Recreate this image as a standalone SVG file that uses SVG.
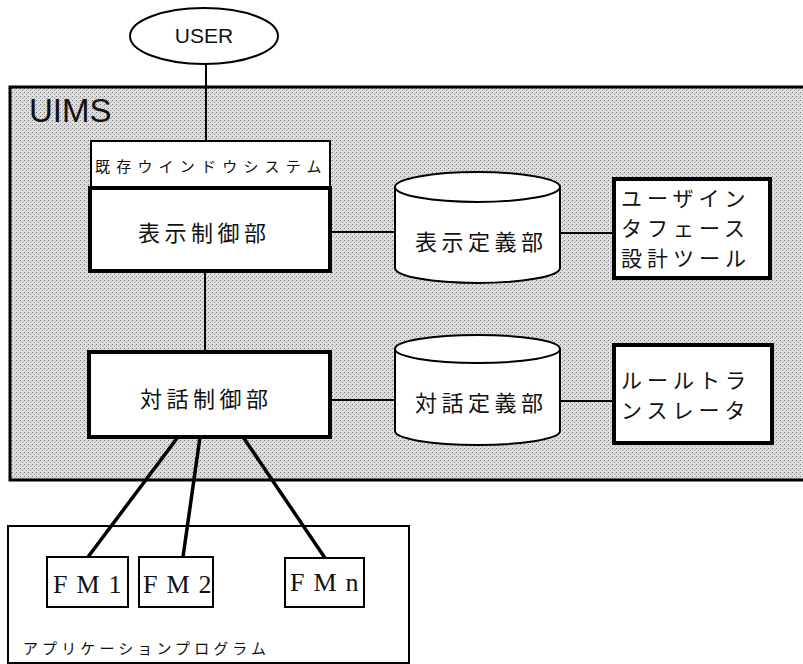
<svg xmlns="http://www.w3.org/2000/svg" width="803" height="664" viewBox="0 0 803 664">
<style>
.jp{font-family:"Noto Sans CJK JP","Noto Sans",sans-serif;fill:#111}
.thin{fill:#fff;stroke:#000;stroke-width:2}
.thick{fill:#fff;stroke:#000;stroke-width:4}
.ln{stroke:#000;stroke-width:2;fill:none}
.lnb{stroke:#000;stroke-width:3.5;fill:none}
.fm{font-family:"Liberation Serif",serif;font-size:26px;fill:#111;letter-spacing:9px}
</style>
<defs>
<pattern id="stip" width="4" height="4" patternUnits="userSpaceOnUse">
<rect width="4" height="4" fill="#dedede"/>
<rect x="0" y="0" width="1" height="1" fill="#777"/>
<rect x="2" y="2" width="1" height="1" fill="#999"/>
<rect x="3" y="1" width="1" height="1" fill="#bbb"/>
</pattern>
</defs>
<rect width="803" height="664" fill="#fff"/>
<g id="uims">
<rect x="10" y="87" width="800" height="393" fill="url(#stip)" stroke="#000" stroke-width="3"/>
<text x="29" y="122" font-family="Liberation Sans,sans-serif" font-size="33" fill="#111">UIMS</text>
</g>
<g id="app">
<rect x="8" y="526" width="401" height="137" class="thin"/>
<text x="23" y="654" class="jp" font-size="15" letter-spacing="4.1">アプリケーションプログラム</text>
</g>
<g id="connectors">
<line class="ln" x1="206" y1="64" x2="206" y2="141"/>
<line class="ln" x1="205" y1="271" x2="205" y2="352"/>
<line class="ln" x1="330" y1="232" x2="395" y2="232"/>
<line class="ln" x1="560" y1="233" x2="613" y2="233"/>
<line class="ln" x1="330" y1="400" x2="395" y2="400"/>
<line class="ln" x1="560" y1="401" x2="613" y2="401"/>
<line class="lnb" x1="178" y1="437" x2="88" y2="557"/>
<line class="lnb" x1="200" y1="437" x2="183" y2="557"/>
<line class="lnb" x1="243" y1="437" x2="325" y2="558"/>
</g>
<g id="user">
<ellipse cx="204" cy="36" rx="74" ry="28" class="thin"/>
<text x="204" y="43" text-anchor="middle" font-family="Liberation Sans,sans-serif" font-size="21" fill="#111">USER</text>
</g>
<g id="window">
<rect x="91" y="141" width="239" height="47" class="thin"/>
<text x="95" y="172" class="jp" font-size="15" letter-spacing="6.2">既存ウインドウシステム</text>
</g>
<g id="display-ctrl">
<rect x="90" y="188" width="240" height="83" class="thick"/>
<text x="138" y="241" class="jp" font-size="22" letter-spacing="4.5">表示制御部</text>
</g>
<g id="dialog-ctrl">
<rect x="89" y="352" width="241" height="85" class="thick"/>
<text x="140" y="407" class="jp" font-size="22" letter-spacing="4.5">対話制御部</text>
</g>
<g id="display-def">
<path class="thin" d="M395,187 A82.5,15 0 0,1 560,187 V268 A82.5,15 0 0,1 395,268 Z"/>
<path class="ln" d="M395,187 A82.5,15 0 0,0 560,187"/>
<text x="415" y="250" class="jp" font-size="22" letter-spacing="4.5">表示定義部</text>
</g>
<g id="dialog-def">
<path class="thin" d="M395,349 A82.5,14 0 0,1 560,349 V431 A82.5,14 0 0,1 395,431 Z"/>
<path class="ln" d="M395,349 A82.5,14 0 0,0 560,349"/>
<text x="415" y="411" class="jp" font-size="22" letter-spacing="4.5">対話定義部</text>
</g>
<g id="ui-tool">
<rect x="614" y="179" width="156" height="99" class="thick"/>
<g class="jp" font-size="21" letter-spacing="5">
<text x="621" y="206">ユーザイン</text>
<text x="621" y="236">タフェース</text>
<text x="621" y="266">設計ツール</text>
</g>
</g>
<g id="rule-tool">
<rect x="614" y="345" width="158" height="98" class="thick"/>
<g class="jp" font-size="21" letter-spacing="5">
<text x="621" y="388">ルールトラ</text>
<text x="621" y="418">ンスレータ</text>
</g>
</g>
<g id="fm1">
<rect x="47" y="557" width="81" height="50" class="thin"/>
<text x="53" y="593" class="fm">FM1</text>
</g>
<g id="fm2">
<rect x="139" y="557" width="74" height="50" class="thin"/>
<text x="143" y="593" class="fm">FM2</text>
</g>
<g id="fmn">
<rect x="285" y="558" width="79" height="49" class="thin"/>
<text x="290" y="591" class="fm">FMn</text>
</g>
</svg>
